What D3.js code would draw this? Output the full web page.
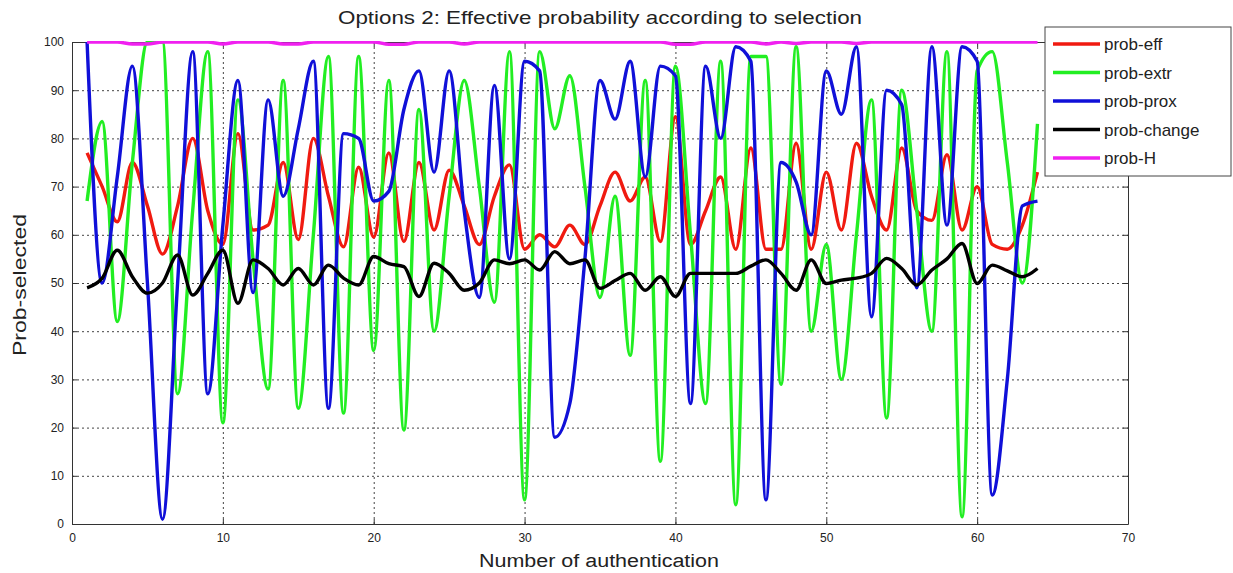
<!DOCTYPE html>
<html>
<head>
<meta charset="utf-8">
<script src="https://cdn.jsdelivr.net/npm/d3@7.9.0/dist/d3.min.js"></script>
<style>
  body { margin: 0; background: #fff; }
  svg { display: block; font-family: "Liberation Sans", Arial, sans-serif; }
</style>
</head>
<body>
<svg id="chart" width="1233" height="573"></svg>
<script>
// authentication number (x)
const auth = [1,2,3,4,5,6,7,8,9,10,11,12,13,14,15,16,17,18,19,20,21,22,23,24,25,26,27,28,29,30,31,32,
  33,34,35,36,37,38,39,40,41,42,43,44,45,46,47,48,49,50,51,52,53,54,55,56,57,58,59,60,61,62,63,64];

const probEff = [77,70,62.7,75,66,56,66,80,65,58,81,61,62,75,59,80,68,57.5,74,59.5,77,58.6,75,61,73.4,66,58,68,74.5,57,60,57.5,
  62,58,66,73,67,72,58.6,84.5,58,65,72,57,78,57,57,79,57,73,61,79,68,61,78,65,63,76.6,61,70,58,57,62,73];

const probExtr = [67,83.5,42,75,100,100,27,65,98,21,88,55,28,92,24,60,97,23,97,36,92,19.5,86,40,68,92,70,46,98,5,98,82,
  93,70,47,68,35,92,13,95,60,25,96,4,97,97,29,99,40,58,30,60,88,22,90,65,40,98,1.5,94,98,75,50,83];

const probProx = [100,50,72,95,50,1,50,98,27,62,92,48,88,68,82,96,24,81,80,67,69,86,94,73,94,65,47,91,55,96,94,18,
  25,55,92,84,96,72,95,93,25,95,80,99,96,5,75,71,60,94,85,99,43,90,87,49,99,62,99,96,6,30,66,67];

const probChange = [49,51,56.8,51.3,47.9,50,55.8,47.5,52,56.8,45.8,54.8,53,49.6,53,49.6,53.7,51,49.6,55.5,54,53.4,47.2,54.1,
  52,48.5,50,54.8,54,54.8,52.7,56.5,54,54.8,48.9,50.5,52,48.5,51.3,47.2,52,52,52,52,53.5,54.8,52,48.5,54.8,49.9,
  50.6,51,52,55.1,53,49.6,52.7,55,58.2,49.9,53.7,52.5,51.3,53];

const probH = [100,100,100,99.6,99.6,100,100,100,100,99.6,100,100,100,99.6,99.6,100,100,100,100,100,99.5,99.5,100,100,
  100,99.6,100,100,100,100,100,100,100,100,100,100,100,100,100,99.5,99.5,100,100,100,100,99.6,100,99.7,100,100,
  100,99.7,100,100,100,100,100,100,100,100,100,100,100,100];

const seriesNames = ['prob-eff', 'prob-extr', 'prob-prox', 'prob-change', 'prob-H'];
const seriesColors = ['#f01a10', '#22ee22', '#1010d8', '#000000', '#f020f0'];
const seriesValues = [probEff, probExtr, probProx, probChange, probH];

const xTicks = [0, 10, 20, 30, 40, 50, 60, 70];
const yTicks = [0, 10, 20, 30, 40, 50, 60, 70, 80, 90, 100];

const svg = d3.select('#chart');
const plot = { left: 72, right: 1128, top: 42, bottom: 524 };

const x = d3.scaleLinear().domain([0, 70]).range([plot.left, plot.right]);
const y = d3.scaleLinear().domain([0, 100]).range([plot.bottom, plot.top]);

svg.append('rect')
  .attr('width', 1233).attr('height', 573).attr('fill', '#fff');

svg.append('defs').append('clipPath').attr('id', 'clip')
  .append('rect')
  .attr('x', plot.left).attr('y', plot.top - 1)
  .attr('width', plot.right - plot.left)
  .attr('height', plot.bottom - plot.top + 1);

// grid
const grid = svg.append('g').attr('class', 'grid')
  .attr('stroke', '#444').attr('stroke-width', 1).attr('stroke-dasharray', '2,3');
grid.selectAll('.gx').data(xTicks.slice(1, -1)).join('line')
  .attr('x1', d => x(d) + 0.5).attr('x2', d => x(d) + 0.5)
  .attr('y1', plot.top).attr('y2', plot.bottom);
grid.selectAll('.gy').data(yTicks.slice(1, -1)).join('line')
  .attr('y1', d => y(d) + 0.5).attr('y2', d => y(d) + 0.5)
  .attr('x1', plot.left).attr('x2', plot.right);

// axes, MATLAB style: ticks point inward, box on all sides
svg.append('g')
  .attr('transform', `translate(0, ${plot.bottom})`)
  .call(d3.axisBottom(x).tickValues(xTicks).tickSizeInner(-5).tickSizeOuter(0).tickPadding(9));
svg.append('g')
  .attr('transform', `translate(0, ${plot.top})`)
  .call(d3.axisTop(x).tickValues(xTicks).tickSizeInner(-5).tickSizeOuter(0).tickFormat(''));
svg.append('g')
  .attr('transform', `translate(${plot.left}, 0)`)
  .call(d3.axisLeft(y).tickValues(yTicks).tickSizeInner(-5).tickSizeOuter(0).tickPadding(8));
svg.append('g')
  .attr('transform', `translate(${plot.right}, 0)`)
  .call(d3.axisRight(y).tickValues(yTicks).tickSizeInner(-5).tickSizeOuter(0).tickFormat(''));

svg.selectAll('.domain').attr('stroke', '#333');
svg.selectAll('.tick line').attr('stroke', '#333');
svg.selectAll('.tick text').attr('font-size', 12).attr('fill', '#222')
  .attr('font-family', '"Liberation Sans", Arial, sans-serif');

// lines
const line = d3.line()
  .x((d, i) => x(auth[i]))
  .y(d => y(d))
  .curve(d3.curveMonotoneX);

const lines = svg.append('g').attr('clip-path', 'url(#clip)');
lines.selectAll('path')
  .data(seriesValues)
  .join('path')
  .attr('d', d => line(d))
  .attr('fill', 'none')
  .attr('stroke', (d, i) => seriesColors[i])
  .attr('stroke-width', 3.4)
  .attr('stroke-linejoin', 'round');

// texts
svg.append('text')
  .attr('x', 338).attr('y', 24)
  .attr('font-size', 19).attr('fill', '#222')
  .attr('textLength', 524).attr('lengthAdjust', 'spacingAndGlyphs')
  .text('Options 2: Effective probability according to selection');

svg.append('text')
  .attr('x', 479).attr('y', 567)
  .attr('font-size', 18).attr('fill', '#222')
  .attr('textLength', 240).attr('lengthAdjust', 'spacingAndGlyphs')
  .text('Number of authentication');

svg.append('text')
  .attr('transform', 'translate(26, 356) rotate(-90)')
  .attr('font-size', 18).attr('fill', '#222')
  .attr('textLength', 142).attr('lengthAdjust', 'spacingAndGlyphs')
  .text('Prob-selected');

// legend
const legend = svg.append('g').attr('transform', 'translate(1045, 27)');
legend.append('rect')
  .attr('width', 186).attr('height', 149)
  .attr('fill', '#fff').attr('stroke', '#444').attr('stroke-width', 1);
const items = legend.selectAll('g.item')
  .data(seriesNames)
  .join('g')
  .attr('transform', (d, i) => `translate(0, ${17 + i * 28.5})`);
items.append('line')
  .attr('x1', 8).attr('x2', 55)
  .attr('stroke', (d, i) => seriesColors[i])
  .attr('stroke-width', 3.4);
items.append('text')
  .attr('x', 59).attr('y', 6)
  .attr('font-size', 17).attr('fill', '#222')
  .text(d => d);
</script>
</body>
</html>
